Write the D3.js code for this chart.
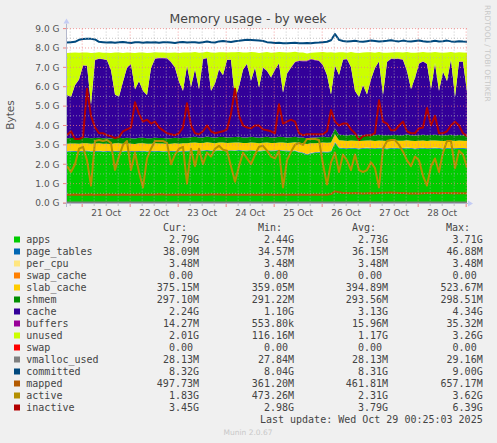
<!DOCTYPE html>
<html lang="en">

<head>
  <meta charset="utf-8">
  <title>Memory usage - by week</title>
  <script src="https://cdnjs.cloudflare.com/ajax/libs/d3/7.8.5/d3.min.js"></script>

  <style>
    body {
      margin: 0;
      background: #f0f0f0;
    }

    svg {
      display: block;
    }

    .sans {
      font-family: "DejaVu Sans", sans-serif;
    }

    .mono {
      font-family: "DejaVu Sans Mono", monospace;
      font-size: 10px;
      fill: #444;
    }
  </style>
</head>

<body>

  <svg id="svg" width="497" height="443"></svg>

  <script>

    // one sample every 2 hours, Oct 20 16:25 UTC -> Oct 29 00:25 UTC
    var N = 101;
    var startTime = Date.UTC(2025, 9, 20, 16, 25);
    var stepHours = 2;

    // values in G unless the name ends with M
    var apps = [
      2.64, 2.66, 2.65, 2.63, 2.66, 2.67, 2.64, 2.65, 2.66, 2.64,
      2.65, 2.63, 2.66, 2.65, 2.64, 2.66, 2.65, 2.63, 2.65, 2.66,
      2.64, 2.65, 2.66, 2.65, 2.64, 2.63, 2.65, 2.66, 2.64, 2.65,
      2.66, 2.68, 2.69, 2.67, 2.68, 2.70, 2.68, 2.67, 2.69, 2.68,
      2.67, 2.69, 2.68, 2.70, 2.68, 2.67, 2.69, 2.68, 2.66, 2.68,
      2.69, 2.67, 2.68, 2.70, 2.68, 2.67, 2.66, 2.68, 2.60, 2.57,
      2.48, 2.55, 2.58, 2.60, 2.62, 2.61, 2.63, 3.10, 2.82, 2.80,
      2.79, 2.81, 2.80, 2.78, 2.80, 2.82, 2.80, 2.79, 2.81, 2.80,
      2.78, 2.80, 2.81, 2.79, 2.80, 2.82, 2.80, 2.78, 2.80, 2.81,
      2.79, 2.80, 2.82, 2.80, 2.78, 2.80, 2.81, 2.79, 2.80, 2.80,
      2.79
    ];

    var pageTablesM = [
      35, 35, 36, 35, 35, 36, 36, 35, 35, 36,
      35, 35, 36, 36, 35, 35, 36, 35, 35, 36,
      36, 35, 35, 36, 36, 35, 35, 36, 35, 35,
      36, 36, 35, 35, 36, 36, 35, 35, 36, 36,
      35, 35, 36, 36, 35, 35, 36, 36, 35, 35,
      36, 36, 35, 35, 36, 36, 35, 35, 36, 37,
      37, 36, 36, 37, 36, 37, 38, 47, 40, 38,
      37, 38, 37, 37, 38, 37, 37, 38, 37, 37,
      38, 37, 37, 38, 37, 38, 37, 37, 38, 37,
      38, 37, 38, 37, 38, 37, 38, 37, 38, 38,
      38.09
    ];

    // flat over the whole week (min = max = 3.48M, swap and swap_cache 0)
    var perCpuM = d3.range(N).map(function () { return 3.48; });
    var swapCache = d3.range(N).map(function () { return 0; });
    var swap = d3.range(N).map(function () { return 0; });

    var slabCache = [
      0.38, 0.37, 0.38, 0.39, 0.38, 0.37, 0.38, 0.38, 0.39, 0.38,
      0.37, 0.38, 0.38, 0.39, 0.38, 0.38, 0.37, 0.38, 0.39, 0.38,
      0.38, 0.37, 0.38, 0.38, 0.39, 0.38, 0.37, 0.38, 0.38, 0.39,
      0.38, 0.39, 0.40, 0.39, 0.38, 0.40, 0.39, 0.38, 0.39, 0.40,
      0.39, 0.38, 0.40, 0.39, 0.38, 0.39, 0.40, 0.39, 0.38, 0.39,
      0.40, 0.39, 0.38, 0.39, 0.40, 0.39, 0.41, 0.42, 0.46, 0.48,
      0.52, 0.49, 0.47, 0.46, 0.47, 0.46, 0.45, 0.40, 0.37, 0.38,
      0.37, 0.38, 0.37, 0.38, 0.37, 0.37, 0.38, 0.37, 0.38, 0.37,
      0.38, 0.37, 0.37, 0.38, 0.37, 0.38, 0.37, 0.38, 0.37, 0.38,
      0.37, 0.38, 0.37, 0.37, 0.38, 0.37, 0.38, 0.37, 0.38, 0.37,
      0.375
    ];

    var shmemM = [
      292, 292, 293, 292, 292, 293, 293, 292, 292, 293,
      292, 293, 293, 292, 292, 293, 293, 292, 293, 293,
      292, 293, 293, 293, 292, 293, 293, 293, 292, 293,
      293, 293, 294, 293, 293, 294, 293, 293, 294, 293,
      293, 294, 294, 293, 294, 294, 293, 294, 294, 293,
      294, 294, 293, 294, 294, 294, 293, 294, 294, 294,
      294, 294, 295, 294, 294, 295, 295, 296, 296, 296,
      296, 297, 296, 296, 297, 296, 297, 297, 296, 297,
      297, 297, 296, 297, 297, 297, 297, 296, 297, 297,
      297, 297, 297, 298, 297, 297, 297, 297, 297, 297,
      297.1
    ];

    var cache = [
      2.22, 2.12, 2.72, 3.02, 3.72, 3.72, 1.72, 4.02, 4.07, 4.07,
      4.02, 3.52, 2.22, 2.12, 2.92, 3.62, 3.82, 2.52, 2.92, 2.42,
      2.22, 3.62, 4.07, 4.12, 4.12, 4.12, 3.92, 3.62, 2.92, 2.42,
      3.72, 2.59, 3.49, 2.49, 4.04, 4.04, 2.39, 2.79, 3.49, 3.19,
      3.99, 3.99, 1.99, 2.59, 3.49, 3.79, 2.89, 3.59, 2.59, 3.59,
      3.39, 3.09, 3.49, 3.79, 2.29, 3.29, 3.59, 3.84, 3.94, 3.94,
      3.99, 4.04, 3.99, 3.94, 3.69, 3.19, 2.19, 3.25, 3.08, 3.88,
      3.93, 3.48, 2.28, 1.98, 2.58, 2.08, 2.88, 3.48, 3.78, 2.08,
      3.78, 3.93, 3.93, 3.93, 3.88, 3.28, 2.38, 2.98, 3.68, 3.78,
      3.68, 2.38, 3.68, 2.28, 3.28, 2.78, 3.88, 1.98, 3.78, 3.78,
      2.24
    ];

    var buffersM = [
      12, 14, 16, 18, 20, 15, 10, 14, 17, 19,
      21, 18, 12, 10, 14, 18, 20, 13, 15, 11,
      10, 16, 20, 22, 24, 25, 22, 18, 12, 10,
      16, 11, 17, 12, 22, 24, 11, 14, 19, 16,
      23, 25, 8, 12, 18, 21, 14, 19, 12, 18,
      17, 14, 18, 21, 9, 16, 20, 24, 28, 32,
      35, 33, 30, 28, 22, 15, 6, 1, 10, 18,
      20, 16, 9, 6, 11, 8, 14, 18, 21, 9,
      19, 22, 24, 25, 23, 17, 10, 14, 20, 22,
      21, 11, 19, 10, 15, 12, 21, 8, 18, 19,
      14.27
    ];

    var unused = [
      2.17, 2.27, 1.67, 1.37, 0.67, 0.67, 2.67, 0.37, 0.32, 0.32,
      0.37, 0.87, 2.17, 2.27, 1.47, 0.77, 0.57, 1.87, 1.47, 1.97,
      2.17, 0.77, 0.32, 0.27, 0.27, 0.27, 0.47, 0.77, 1.47, 1.97,
      0.67, 1.77, 0.87, 1.87, 0.32, 0.32, 1.97, 1.57, 0.87, 1.17,
      0.37, 0.37, 2.37, 1.77, 0.87, 0.57, 1.47, 0.77, 1.77, 0.77,
      0.97, 1.27, 0.87, 0.57, 2.07, 1.07, 0.77, 0.52, 0.42, 0.42,
      0.37, 0.32, 0.37, 0.42, 0.67, 1.17, 2.17, 0.67, 1.17, 0.37,
      0.32, 0.77, 1.97, 2.27, 1.67, 2.17, 1.37, 0.77, 0.47, 2.17,
      0.47, 0.32, 0.32, 0.32, 0.37, 0.97, 1.87, 1.27, 0.57, 0.47,
      0.57, 1.87, 0.57, 1.97, 0.97, 1.47, 0.37, 2.27, 0.47, 0.47,
      2.01
    ];

    var vmallocUsedM = [
      28.1, 28.0, 28.1, 28.2, 28.1, 28.0, 28.1, 28.1, 28.2, 28.1,
      28.0, 28.1, 28.2, 28.1, 28.0, 28.1, 28.1, 28.2, 28.1, 28.0,
      28.1, 28.2, 28.1, 28.0, 28.1, 28.1, 28.2, 28.1, 28.0, 28.1,
      28.2, 28.1, 28.0, 28.1, 28.1, 28.2, 28.1, 28.0, 28.1, 28.2,
      28.1, 28.0, 28.1, 28.1, 28.2, 28.1, 28.0, 28.1, 28.2, 28.1,
      28.0, 28.1, 28.1, 28.2, 28.1, 28.0, 28.1, 28.2, 28.1, 28.0,
      27.9, 28.0, 28.1, 28.1, 28.2, 28.3, 28.5, 29.1, 28.4, 28.2,
      28.1, 28.2, 28.1, 28.1, 28.2, 28.1, 28.2, 28.1, 28.1, 28.2,
      28.1, 28.2, 28.1, 28.1, 28.2, 28.1, 28.2, 28.1, 28.1, 28.2,
      28.1, 28.2, 28.1, 28.1, 28.2, 28.1, 28.2, 28.1, 28.1, 28.2,
      28.13
    ];

    var committed = [
      8.28, 8.30, 8.32, 8.42, 8.46, 8.48, 8.47, 8.44, 8.32, 8.30,
      8.28, 8.30, 8.27, 8.29, 8.31, 8.28, 8.26, 8.30, 8.29, 8.27,
      8.30, 8.28, 8.30, 8.27, 8.29, 8.30, 8.28, 8.26, 8.29, 8.31,
      8.28, 8.30, 8.29, 8.27, 8.30, 8.33, 8.30, 8.28, 8.34, 8.36,
      8.33, 8.31, 8.35, 8.37, 8.40, 8.42, 8.41, 8.40, 8.38, 8.36,
      8.30, 8.28, 8.26, 8.27, 8.25, 8.24, 8.26, 8.27, 8.25, 8.24,
      8.26, 8.25, 8.27, 8.28, 8.30, 8.32, 8.40, 8.72, 8.42, 8.36,
      8.33, 8.35, 8.37, 8.34, 8.32, 8.35, 8.38, 8.36, 8.33, 8.35,
      8.37, 8.40, 8.36, 8.34, 8.38, 8.35, 8.33, 8.36, 8.39, 8.35,
      8.32, 8.34, 8.37, 8.33, 8.35, 8.38, 8.34, 8.32, 8.35, 8.33,
      8.32
    ];

    var mapped = [
      0.43, 0.42, 0.44, 0.43, 0.42, 0.43, 0.44, 0.43, 0.42, 0.43,
      0.44, 0.43, 0.42, 0.43, 0.44, 0.43, 0.42, 0.43, 0.44, 0.43,
      0.42, 0.43, 0.44, 0.45, 0.44, 0.43, 0.42, 0.43, 0.44, 0.43,
      0.42, 0.43, 0.44, 0.43, 0.42, 0.43, 0.44, 0.45, 0.44, 0.43,
      0.42, 0.43, 0.44, 0.43, 0.42, 0.43, 0.44, 0.43, 0.42, 0.43,
      0.44, 0.43, 0.42, 0.43, 0.44, 0.43, 0.42, 0.43, 0.44, 0.43,
      0.42, 0.43, 0.44, 0.43, 0.42, 0.43, 0.46, 0.60, 0.56, 0.52,
      0.51, 0.50, 0.51, 0.50, 0.49, 0.50, 0.51, 0.50, 0.52, 0.53,
      0.53, 0.54, 0.53, 0.52, 0.51, 0.50, 0.49, 0.50, 0.49, 0.50,
      0.51, 0.52, 0.51, 0.50, 0.52, 0.51, 0.50, 0.51, 0.50, 0.50,
      0.498
    ];

    var active = [
      1.9, 1.6, 2.0, 2.8, 2.9, 2.2, 0.9, 3.2, 3.25, 3.2,
      3.25, 3.1, 1.7, 2.4, 3.0, 3.2, 1.7, 2.6, 1.6, 0.8,
      2.3, 2.8, 3.2, 3.2, 3.2, 3.1, 2.0, 2.5, 2.8, 2.9,
      1.0, 2.8, 1.9, 2.8, 2.0, 2.6, 2.4, 2.8, 2.95, 2.75,
      2.7, 1.9, 1.1, 1.9, 2.6, 2.3, 2.0, 2.5, 2.9, 2.95,
      2.7, 2.4, 2.3, 2.7, 0.8, 2.2, 2.65, 3.0, 3.1, 3.0,
      3.3, 3.3, 3.3, 3.25, 2.0, 0.95, 2.1, 2.6, 1.6, 2.5,
      2.2, 1.7, 2.5, 1.7, 1.6, 1.7, 2.1, 1.8, 0.8, 2.8,
      3.2, 3.25, 3.25, 3.0, 2.65, 2.2, 1.9, 2.4, 2.2, 1.4,
      0.9, 1.9, 2.3, 1.6, 2.6, 3.2, 3.2, 1.8, 2.7, 2.5,
      1.83
    ];

    var inactive = [
      3.5, 3.7, 3.3, 3.3, 3.4, 5.9, 4.5, 3.9, 3.6, 3.6,
      3.5, 3.45, 3.35, 3.4, 3.7, 3.8, 3.9, 5.2, 4.6, 4.2,
      4.3, 4.1, 4.2, 3.9, 3.75, 3.6, 3.55, 3.5, 3.6, 3.9,
      5.15, 4.0, 3.6, 3.55, 3.7, 4.0, 3.7, 3.6, 3.65, 3.7,
      3.8, 4.6, 5.9, 4.5, 4.0, 3.9, 3.85, 4.0, 4.0, 3.8,
      3.75, 3.7, 3.6, 5.1, 4.1, 4.2, 4.3, 4.2, 3.6, 3.5,
      3.55, 3.55, 3.55, 3.55, 3.55, 3.7, 4.8, 4.2, 4.0, 4.1,
      4.1, 3.8, 3.6, 3.25, 3.45, 3.5, 3.5, 3.6, 5.3, 4.2,
      4.1, 3.75, 3.75, 4.0, 4.2, 3.7, 3.6, 3.6, 3.85, 3.9,
      4.9, 4.0, 4.5, 3.6, 3.6, 3.7, 4.0, 4.2, 4.0, 3.6,
      3.45
    ];

    // legend table
    var legendNames = ["apps", "page_tables", "per_cpu", "swap_cache", "slab_cache", "shmem", "cache", "buffers",
      "unused", "swap", "vmalloc_used", "committed", "mapped", "active", "inactive"];
    var legendColors = ["#00CC00", "#0066B3", "#FFE680", "#FF8000", "#FFCC00", "#008F00", "#330099", "#990099",
      "#CCFF00", "#FF0000", "#808080", "#00487D", "#B35A00", "#B38F00", "#B30000"];
    var curText = ["2.79G", "38.09M", "3.48M", "0.00", "375.15M", "297.10M", "2.24G", "14.27M",
      "2.01G", "0.00", "28.13M", "8.32G", "497.73M", "1.83G", "3.45G"];
    var minText = ["2.44G", "34.57M", "3.48M", "0.00", "359.05M", "291.22M", "1.10G", "553.80k",
      "116.16M", "0.00", "27.84M", "8.04G", "361.20M", "473.26M", "2.98G"];
    var avgText = ["2.73G", "36.15M", "3.48M", "0.00", "394.89M", "293.56M", "3.13G", "15.96M",
      "1.17G", "0.00", "28.13M", "8.31G", "461.81M", "2.31G", "3.79G"];
    var maxText = ["3.71G", "46.88M", "3.48M", "0.00", "523.67M", "298.51M", "4.34G", "35.32M",
      "3.26G", "0.00", "29.16M", "9.00G", "657.17M", "3.62G", "6.39G"];

    var yTickValues = [0, 1, 2, 3, 4, 5, 6, 7, 8, 9];


    var colorOf = {};
    legendNames.forEach(function (n, i) { colorOf[n] = legendColors[i]; });

    var table = [];
    for (var i = 0; i < N; i++) {
      table.push({
        time: new Date(startTime + i * stepHours * 3600e3),
        apps: apps[i],
        page_tables: pageTablesM[i] / 1024,
        per_cpu: perCpuM[i] / 1024,
        swap_cache: swapCache[i],
        slab_cache: slabCache[i],
        shmem: shmemM[i] / 1024,
        cache: cache[i],
        buffers: buffersM[i] / 1024,
        unused: unused[i],
        swap: swap[i],
        vmalloc_used: vmallocUsedM[i] / 1024,
        committed: committed[i],
        mapped: mapped[i],
        active: active[i],
        inactive: inactive[i]
      });
    }

    var stackKeys = legendNames.slice(0, 10);
    var lineKeys = legendNames.slice(10);

    var plotLeft = 67, plotRight = 467, plotTop = 28.6, plotBottom = 203;

    var x = d3.scaleUtc()
      .domain([table[0].time, table[N - 1].time])
      .range([plotLeft, plotRight]);

    var y = d3.scaleLinear()
      .domain([0, 9])
      .range([plotBottom, plotTop]);

    var svg = d3.select("#svg");

    svg.append("rect")
      .attr("width", 497).attr("height", 443)
      .attr("fill", "#f0f0f0");

    svg.append("rect")
      .attr("x", plotLeft).attr("y", plotTop)
      .attr("width", plotRight - plotLeft).attr("height", plotBottom - plotTop)
      .attr("fill", "#ffffff");

    svg.append("clipPath").attr("id", "plotclip")
      .append("rect")
      .attr("x", plotLeft).attr("y", plotTop - 3)
      .attr("width", plotRight - plotLeft).attr("height", plotBottom - plotTop + 3);

    var plot = svg.append("g").attr("clip-path", "url(#plotclip)");

    // stacked areas
    var series = d3.stack().keys(stackKeys)(table);

    var area = d3.area()
      .x(function (d) { return x(d.data.time); })
      .y0(function (d) { return y(d[0]); })
      .y1(function (d) { return y(d[1]); });

    plot.selectAll("path.area")
      .data(series)
      .enter().append("path")
      .attr("class", "area")
      .attr("fill", function (s) { return colorOf[s.key]; })
      .attr("d", area);

    // grid, minor then major
    var grid = svg.append("g");
    var minorY = d3.range(0.5, 9, 1);
    var midnights = d3.utcDay.range(x.domain()[0], x.domain()[1]);
    var sixHours = d3.utcHour.every(6).range(x.domain()[0], x.domain()[1])
      .filter(function (t) { return t.getUTCHours() !== 0; });
    // day labels sit at noon, only those inside the plot
    var noons = midnights
      .map(function (t) { return d3.utcHour.offset(t, 12); })
      .filter(function (t) { return t < x.domain()[1]; });

    grid.selectAll("line.hmin").data(minorY).enter().append("line")
      .attr("x1", plotLeft).attr("x2", plotRight)
      .attr("y1", function (v) { return y(v); }).attr("y2", function (v) { return y(v); })
      .attr("stroke", "#b0b0b0").attr("stroke-opacity", 0.7)
      .attr("stroke-dasharray", "1,2");

    grid.selectAll("line.vmin").data(sixHours).enter().append("line")
      .attr("x1", function (t) { return x(t); }).attr("x2", function (t) { return x(t); })
      .attr("y1", plotTop).attr("y2", plotBottom)
      .attr("stroke", "#b0b0b0").attr("stroke-opacity", 0.7)
      .attr("stroke-dasharray", "1,2");

    grid.selectAll("line.hmaj").data(yTickValues.slice(1)).enter().append("line")
      .attr("x1", plotLeft).attr("x2", plotRight)
      .attr("y1", function (v) { return y(v); }).attr("y2", function (v) { return y(v); })
      .attr("stroke", "#f08080").attr("stroke-opacity", 0.75)
      .attr("stroke-dasharray", "1,2");

    grid.selectAll("line.vmaj").data(midnights).enter().append("line")
      .attr("x1", function (t) { return x(t); }).attr("x2", function (t) { return x(t); })
      .attr("y1", plotTop).attr("y2", plotBottom)
      .attr("stroke", "#f08080").attr("stroke-opacity", 0.75)
      .attr("stroke-dasharray", "1,2");

    // lines on top
    lineKeys.forEach(function (key) {
      var line = d3.line()
        .x(function (d) { return x(d.time); })
        .y(function (d) { return y(d[key]); });
      plot.append("path")
        .datum(table)
        .attr("fill", "none")
        .attr("stroke", colorOf[key])
        .attr("stroke-width", 2)
        .attr("stroke-linejoin", "round")
        .attr("d", line);
    });

    // axes
    var axisColor = "#b4b8cc";
    var arrowColor = "#c4ccf4";

    svg.append("line")
      .attr("x1", plotLeft - 4).attr("x2", plotRight + 1)
      .attr("y1", plotBottom + 0.5).attr("y2", plotBottom + 0.5)
      .attr("stroke", axisColor);
    svg.append("path")
      .attr("d", "M" + (plotRight + 1) + "," + (plotBottom - 2.5) + "L" + (plotRight + 6) + "," + (plotBottom + 0.5) +
        "L" + (plotRight + 1) + "," + (plotBottom + 3.5) + "Z")
      .attr("fill", arrowColor);

    svg.append("line")
      .attr("x1", plotLeft - 0.5).attr("x2", plotLeft - 0.5)
      .attr("y1", plotBottom + 4).attr("y2", plotTop - 5)
      .attr("stroke", axisColor);
    svg.append("path")
      .attr("d", "M" + (plotLeft - 3.5) + "," + (plotTop - 5) + "L" + (plotLeft - 0.5) + "," + (plotTop - 10) +
        "L" + (plotLeft + 2.5) + "," + (plotTop - 5) + "Z")
      .attr("fill", arrowColor);

    // tick marks
    svg.selectAll("line.xtick").data(midnights).enter().append("line")
      .attr("x1", function (t) { return x(t); }).attr("x2", function (t) { return x(t); })
      .attr("y1", plotBottom + 1).attr("y2", plotBottom + 4)
      .attr("stroke", "#f08080");
    svg.selectAll("line.xtick2").data(sixHours).enter().append("line")
      .attr("x1", function (t) { return x(t); }).attr("x2", function (t) { return x(t); })
      .attr("y1", plotBottom + 1).attr("y2", plotBottom + 3)
      .attr("stroke", "#c0c0c0");
    svg.selectAll("line.ytick").data(yTickValues).enter().append("line")
      .attr("x1", plotLeft - 4).attr("x2", plotLeft - 1)
      .attr("y1", function (v) { return y(v); }).attr("y2", function (v) { return y(v); })
      .attr("stroke", "#f08080");

    // y labels
    svg.selectAll("text.ylab").data(yTickValues).enter().append("text")
      .attr("class", "sans")
      .attr("x", 59.5)
      .attr("y", function (v) { return y(v) + 3.3; })
      .attr("text-anchor", "end")
      .attr("font-size", "9px")
      .attr("fill", "#555")
      .text(function (v) { return d3.format(".1f")(v) + " G"; });

    // x labels
    svg.selectAll("text.xlab").data(noons).enter().append("text")
      .attr("class", "sans")
      .attr("x", function (t) { return x(t); })
      .attr("y", 216)
      .attr("text-anchor", "middle")
      .attr("font-size", "9px")
      .attr("fill", "#555")
      .text(d3.utcFormat("%d %b"));

    svg.append("text")
      .attr("class", "sans")
      .attr("x", 248).attr("y", 23)
      .attr("text-anchor", "middle")
      .attr("font-size", "12.5px")
      .attr("fill", "#444")
      .text("Memory usage - by week");

    svg.append("text")
      .attr("class", "sans")
      .attr("transform", "translate(13.8,115) rotate(-90)")
      .attr("text-anchor", "middle")
      .attr("font-size", "10.5px")
      .attr("fill", "#555")
      .text("Bytes");

    svg.append("text")
      .attr("class", "sans")
      .attr("transform", "translate(484.5,5) rotate(90)")
      .attr("font-size", "7.5px")
      .attr("fill", "#c8c8c8")
      .text("RRDTOOL / TOBI OETIKER");

    // legend
    var charW = 6.02;
    var heads = [["Cur:", 187], ["Min:", 282], ["Avg:", 376], ["Max:", 470]];
    heads.forEach(function (h) {
      svg.append("text").attr("class", "mono")
        .attr("x", h[1]).attr("y", 231)
        .attr("text-anchor", "end")
        .text(h[0]);
    });

    var colEnds = [199, 294, 388, 482.7];
    var cols = [curText, minText, avgText, maxText];

    var rows = svg.selectAll("g.legrow")
      .data(legendNames)
      .enter().append("g")
      .attr("transform", function (d, i) { return "translate(0," + (243 + 12 * i) + ")"; });

    rows.append("rect")
      .attr("x", 14).attr("y", -6.5)
      .attr("width", 6).attr("height", 6)
      .attr("fill", function (d, i) { return legendColors[i]; });

    rows.append("text").attr("class", "mono")
      .attr("x", 26.3).attr("y", 0)
      .text(function (d) { return d; });

    cols.forEach(function (col, c) {
      rows.append("text").attr("class", "mono")
        .attr("x", function (d, i) {
          // values without a unit keep a blank where the unit would be
          return /[0-9]$/.test(col[i]) ? colEnds[c] - charW : colEnds[c];
        })
        .attr("y", 0)
        .attr("text-anchor", "end")
        .text(function (d, i) { return col[i]; });
    });

    svg.append("text").attr("class", "mono")
      .attr("x", 482.7).attr("y", 423)
      .attr("text-anchor", "end")
      .text("Last update: Wed Oct 29 00:25:03 2025");

    svg.append("text")
      .attr("class", "sans")
      .attr("x", 248).attr("y", 435)
      .attr("text-anchor", "middle")
      .attr("font-size", "7.5px")
      .attr("fill", "#c8c8c8")
      .text("Munin 2.0.67");

  </script>
</body>

</html>
